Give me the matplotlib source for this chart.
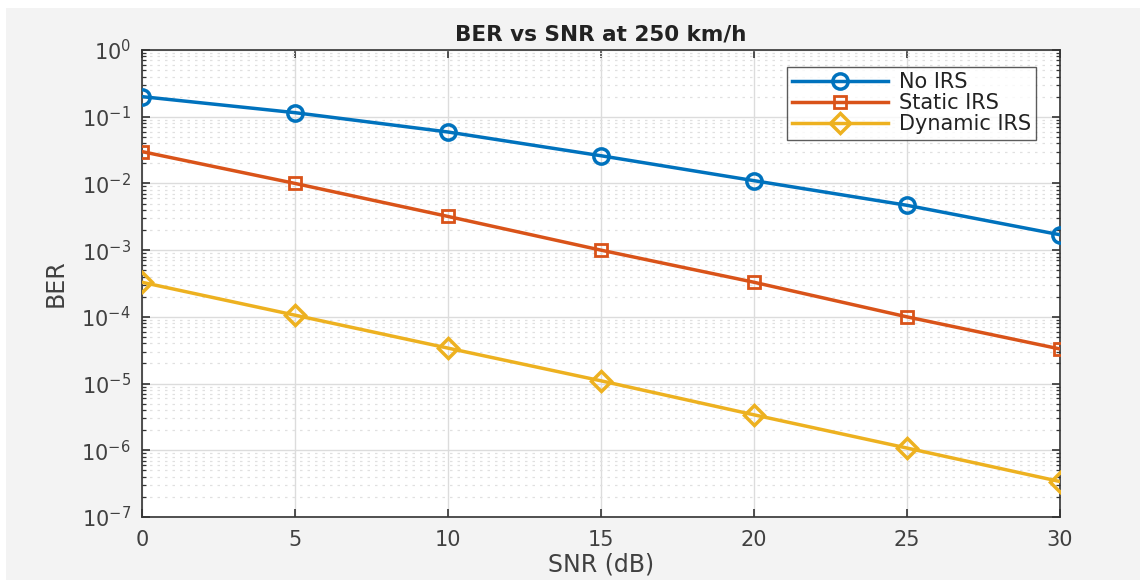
import matplotlib
matplotlib.use("Agg")
import matplotlib.pyplot as plt
from matplotlib.patches import Rectangle
from matplotlib.ticker import FixedLocator, NullFormatter

plt.rcParams['font.family'] = ['DejaVu Sans']
plt.rcParams['mathtext.fontset'] = 'dejavusans'
plt.rcParams['mathtext.default'] = 'regular'

snr = [0, 5, 10, 15, 20, 25, 30]
ber_no_irs = [0.2, 0.115, 0.059, 0.026, 0.011, 0.0047, 0.0017]
ber_static = [0.03, 0.01, 0.0032, 0.001, 3.3e-4, 1.0e-4, 3.3e-5]
ber_dynamic = [3.3e-4, 1.06e-4, 3.4e-5, 1.1e-5, 3.4e-6, 1.08e-6, 3.4e-7]
labels = ['No IRS', 'Static IRS', 'Dynamic IRS']
y_exponents = [-7, -6, -5, -4, -3, -2, -1, 0]

W, H = 1140, 580
fig = plt.figure(figsize=(W / 100, H / 100), dpi=100, facecolor='white')
fig.patches.append(Rectangle((6 / W, 0), 1 - 6 / W, 1 - 8 / H, transform=fig.transFigure,
                             facecolor='#f3f3f3', edgecolor='none', zorder=-10))

ax = fig.add_axes([142 / W, 1 - 517 / H, (1060 - 142) / W, (517 - 50) / H])
ax.set_facecolor('white')

tc = '#404040'
ax.plot(snr, ber_no_irs, '-o', color='#0072BD', lw=2.5, ms=11, mew=2.5,
        mfc='none', label=labels[0], zorder=3)
ax.plot(snr, ber_static, '-s', color='#D95319', lw=2.5, ms=9, mew=2.0,
        mfc='none', label=labels[1], zorder=3)
ax.plot(snr, ber_dynamic, '-D', color='#EDB120', lw=2.5, ms=10, mew=2.5,
        mfc='none', label=labels[2], zorder=3)

ax.set_yscale('log')
ax.set_xlim(0, 30)
ax.set_ylim(1e-7, 1)
ax.set_xticks(snr)
major = [10.0 ** e for e in y_exponents]
ax.set_yticks(major)
ax.set_yticklabels([r'$10^{%d}$' % e for e in y_exponents])
minor = [m * 10.0 ** e for e in y_exponents[:-1] for m in range(2, 10)]
ax.yaxis.set_minor_locator(FixedLocator(minor))
ax.yaxis.set_minor_formatter(NullFormatter())
ax.set_ylim(1e-7, 1)

ax.grid(True, which='major', color='#dcdcdc', lw=1.0, ls='-')
ax.grid(True, which='minor', axis='y', color='#e0e0e0', lw=0.9, ls=(0, (2, 4)))
ax.set_axisbelow(True)

for s in ax.spines.values():
    s.set_color('#333333')
    s.set_linewidth(1.2)
ax.tick_params(which='both', direction='in', top=True, right=True, colors='#333333',
               labelcolor=tc, labelsize=15)
ax.tick_params(which='major', length=6, width=1.2)
ax.tick_params(which='minor', length=3, width=0.9)
ax.tick_params(axis='x', pad=9)
ax.tick_params(axis='y', pad=8)

ax.set_xlabel('SNR (dB)', fontsize=17, color=tc, labelpad=2)
ax.set_ylabel('BER', fontsize=17, color=tc, labelpad=10)
ax.set_title('BER vs SNR at 250 km/h', fontsize=15.5, fontweight='bold', color='#222222', pad=7)

leg = ax.legend(loc='upper right', bbox_to_anchor=(1036 / W, 1 - 67 / H),
                bbox_transform=fig.transFigure, fontsize=15, frameon=True, fancybox=False,
                edgecolor='#333333', handlelength=4.6, borderpad=0.25, labelspacing=0.05,
                handletextpad=0.5, borderaxespad=0)
leg.get_frame().set_linewidth(1.0)
for t in leg.get_texts():
    t.set_color('#222222')

fig.savefig('out.png', dpi=100, facecolor=fig.get_facecolor())
